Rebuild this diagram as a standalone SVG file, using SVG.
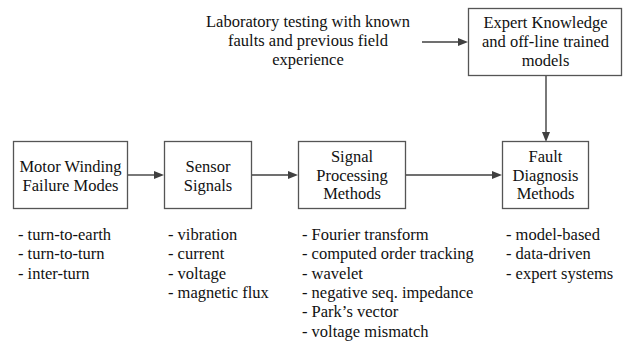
<svg xmlns="http://www.w3.org/2000/svg" width="623" height="345" viewBox="0 0 623 345">
<style>
.box{fill:#fff;stroke:#555;stroke-width:1.3}
.t{font-family:'Liberation Serif',serif !important;font-size:16.5px;fill:#111}
.c{text-anchor:middle}
.conn{stroke:#404040;stroke-width:1.4;fill:none}
.head{fill:#404040}
</style>
<rect width="623" height="345" fill="#fff"/>
<g id="connectors">
<path class="conn" d="M128,175 H155"/>
<path class="head" d="M164,175 L154,171 L154,179 Z"/>
<path class="conn" d="M252,175 H289"/>
<path class="head" d="M298,175 L288,171 L288,179 Z"/>
<path class="conn" d="M406,175 H493"/>
<path class="head" d="M502,175 L492,171 L492,179 Z"/>
<path class="conn" d="M546,75 V133"/>
<path class="head" d="M546,142 L542,132 L550,132 Z"/>
<path class="conn" d="M422,42 H459"/>
<path class="head" d="M468,42 L458,38 L458,46 Z"/>
</g>
<g id="lab">
<text class="t c" style="font-family:'Liberation Serif',serif" x="308" y="27">Laboratory testing with known</text>
<text class="t c" style="font-family:'Liberation Serif',serif" x="308" y="46">faults and previous field</text>
<text class="t c" style="font-family:'Liberation Serif',serif" x="308" y="65">experience</text>
</g>
<g id="expert">
<rect class="box" x="468.5" y="8.5" width="153" height="67"/>
<text class="t c" style="font-family:'Liberation Serif',serif" x="545.5" y="27.5">Expert Knowledge</text>
<text class="t c" style="font-family:'Liberation Serif',serif" x="545.5" y="46.5">and off-line trained</text>
<text class="t c" style="font-family:'Liberation Serif',serif" x="545.5" y="65.5">models</text>
</g>
<g id="motor">
<rect class="box" x="13.5" y="141.5" width="114" height="67"/>
<text class="t c" style="font-family:'Liberation Serif',serif" x="70.5" y="171.5">Motor Winding</text>
<text class="t c" style="font-family:'Liberation Serif',serif" x="70.5" y="190.5">Failure Modes</text>
</g>
<g id="sensor">
<rect class="box" x="164.5" y="141.5" width="87" height="67"/>
<text class="t c" style="font-family:'Liberation Serif',serif" x="208" y="171.5">Sensor</text>
<text class="t c" style="font-family:'Liberation Serif',serif" x="208" y="190.5">Signals</text>
</g>
<g id="signal">
<rect class="box" x="298.5" y="141.5" width="107" height="67"/>
<text class="t c" style="font-family:'Liberation Serif',serif" x="352" y="162">Signal</text>
<text class="t c" style="font-family:'Liberation Serif',serif" x="352" y="180.5">Processing</text>
<text class="t c" style="font-family:'Liberation Serif',serif" x="352" y="199">Methods</text>
</g>
<g id="fault">
<rect class="box" x="502.5" y="141.5" width="86" height="67"/>
<text class="t c" style="font-family:'Liberation Serif',serif" x="545.5" y="162">Fault</text>
<text class="t c" style="font-family:'Liberation Serif',serif" x="545.5" y="180.5">Diagnosis</text>
<text class="t c" style="font-family:'Liberation Serif',serif" x="545.5" y="199">Methods</text>
</g>
<g id="list1">
<text class="t" style="font-family:'Liberation Serif',serif" x="18" y="240">- turn-to-earth</text>
<text class="t" style="font-family:'Liberation Serif',serif" x="18" y="259.3">- turn-to-turn</text>
<text class="t" style="font-family:'Liberation Serif',serif" x="18" y="278.6">- inter-turn</text>
</g>
<g id="list2">
<text class="t" style="font-family:'Liberation Serif',serif" x="168" y="240">- vibration</text>
<text class="t" style="font-family:'Liberation Serif',serif" x="168" y="259.3">- current</text>
<text class="t" style="font-family:'Liberation Serif',serif" x="168" y="278.6">- voltage</text>
<text class="t" style="font-family:'Liberation Serif',serif" x="168" y="297.9">- magnetic flux</text>
</g>
<g id="list3">
<text class="t" style="font-family:'Liberation Serif',serif" x="302" y="240">- Fourier transform</text>
<text class="t" style="font-family:'Liberation Serif',serif" x="302" y="259.3">- computed order tracking</text>
<text class="t" style="font-family:'Liberation Serif',serif" x="302" y="278.6">- wavelet</text>
<text class="t" style="font-family:'Liberation Serif',serif" x="302" y="297.9">- negative seq. impedance</text>
<text class="t" style="font-family:'Liberation Serif',serif" x="302" y="317.2">- Park’s vector</text>
<text class="t" style="font-family:'Liberation Serif',serif" x="302" y="336.5">- voltage mismatch</text>
</g>
<g id="list4">
<text class="t" style="font-family:'Liberation Serif',serif" x="506" y="240">- model-based</text>
<text class="t" style="font-family:'Liberation Serif',serif" x="506" y="259.3">- data-driven</text>
<text class="t" style="font-family:'Liberation Serif',serif" x="506" y="278.6">- expert systems</text>
</g>
</svg>
